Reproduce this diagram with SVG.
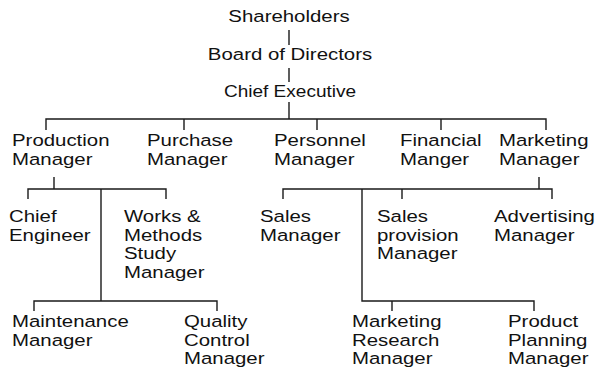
<svg xmlns="http://www.w3.org/2000/svg" width="596" height="367" viewBox="0 0 596 367">
<style>
text{font-family:"Liberation Sans",Arial,sans-serif;font-size:17px;fill:#111}
.c{text-anchor:middle}
#connectors path{fill:none;stroke:#1a1a1a;stroke-width:1.4}
</style>
<rect width="596" height="367" fill="#fff"/>
<g id="connectors">
<path d="M289 30V45M289 68V82M289 102V119"/>
<path d="M46 130V119H546V130M184 119V130M317 119V130M441 119V130"/>
<path d="M54 177V189M28 199V189H166V199M101 189V301M34 311V301H217V311"/>
<path d="M539 177V189M283 199V189H552V199M402 189V199M362 189V301H534V311M392 301V311"/>
</g>
<g id="shareholders"><text class="c" transform="translate(289 22) scale(1.2 1)">Shareholders</text></g>
<g id="board"><text class="c" transform="translate(290 60) scale(1.2 1)">Board of Directors</text></g>
<g id="ceo"><text class="c" transform="translate(290 97) scale(1.12 1)">Chief Executive</text></g>
<g id="production"><text transform="translate(12 146) scale(1.2 1)"><tspan x="0">Production</tspan><tspan x="0" dy="18.7">Manager</tspan></text></g>
<g id="purchase"><text transform="translate(147 146) scale(1.2 1)"><tspan x="0">Purchase</tspan><tspan x="0" dy="18.7">Manager</tspan></text></g>
<g id="personnel"><text transform="translate(274 146) scale(1.2 1)"><tspan x="0">Personnel</tspan><tspan x="0" dy="18.7">Manager</tspan></text></g>
<g id="financial"><text transform="translate(400 146) scale(1.2 1)"><tspan x="0">Financial</tspan><tspan x="0" dy="18.7">Manger</tspan></text></g>
<g id="marketing"><text transform="translate(499 146) scale(1.2 1)"><tspan x="0">Marketing</tspan><tspan x="0" dy="18.7">Manager</tspan></text></g>
<g id="chief-engineer"><text transform="translate(9 222) scale(1.2 1)"><tspan x="0">Chief</tspan><tspan x="0" dy="18.7">Engineer</tspan></text></g>
<g id="works"><text transform="translate(124 222) scale(1.2 1)"><tspan x="0">Works &amp;</tspan><tspan x="0" dy="18.7">Methods</tspan><tspan x="0" dy="18.7">Study</tspan><tspan x="0" dy="18.7">Manager</tspan></text></g>
<g id="sales"><text transform="translate(260 222) scale(1.2 1)"><tspan x="0">Sales</tspan><tspan x="0" dy="18.7">Manager</tspan></text></g>
<g id="sales-provision"><text transform="translate(377 222) scale(1.2 1)"><tspan x="0">Sales</tspan><tspan x="0" dy="18.7">provision</tspan><tspan x="0" dy="18.7">Manager</tspan></text></g>
<g id="advertising"><text transform="translate(494 222) scale(1.2 1)"><tspan x="0">Advertising</tspan><tspan x="0" dy="18.7">Manager</tspan></text></g>
<g id="maintenance"><text transform="translate(12 327) scale(1.2 1)"><tspan x="0">Maintenance</tspan><tspan x="0" dy="18.7">Manager</tspan></text></g>
<g id="quality"><text transform="translate(184 327) scale(1.2 1)"><tspan x="0">Quality</tspan><tspan x="0" dy="18.7">Control</tspan><tspan x="0" dy="18.7">Manager</tspan></text></g>
<g id="market-research"><text transform="translate(352 327) scale(1.2 1)"><tspan x="0">Marketing</tspan><tspan x="0" dy="18.7">Research</tspan><tspan x="0" dy="18.7">Manager</tspan></text></g>
<g id="product-planning"><text transform="translate(508 327) scale(1.2 1)"><tspan x="0">Product</tspan><tspan x="0" dy="18.7">Planning</tspan><tspan x="0" dy="18.7">Manager</tspan></text></g>
</svg>
